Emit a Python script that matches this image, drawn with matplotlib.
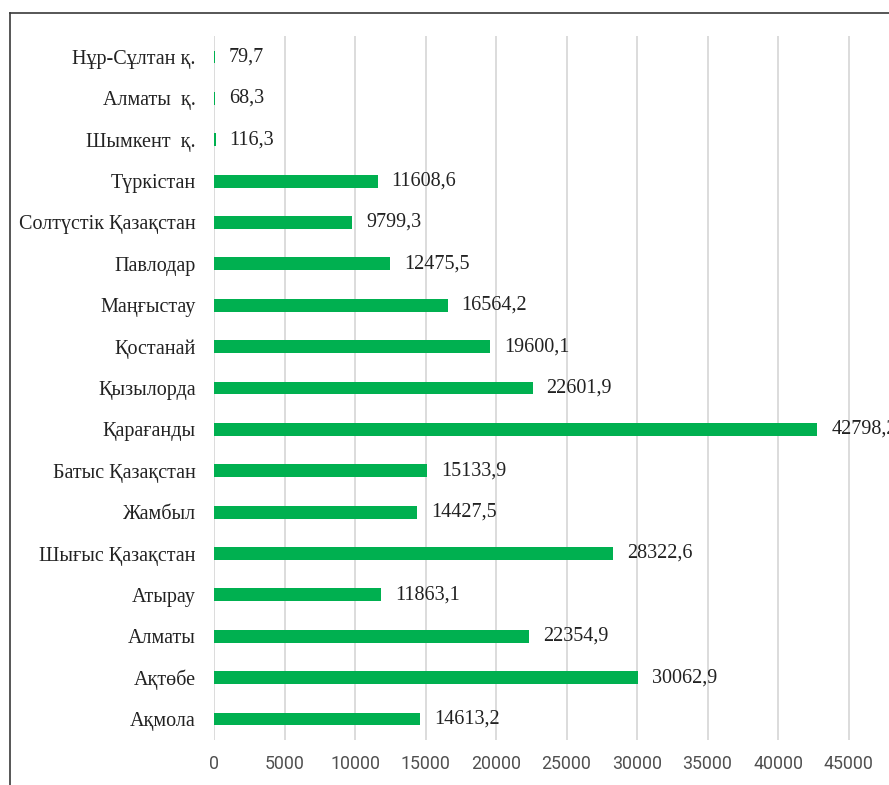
import matplotlib
matplotlib.use("Agg")
import matplotlib.pyplot as plt
from matplotlib.lines import Line2D

categories = ["Ақмола", "Ақтөбе", "Алматы", "Атырау", "Шығыс Қазақстан", "Жамбыл",
              "Батыс Қазақстан", "Қарағанды", "Қызылорда", "Қостанай", "Маңғыстау",
              "Павлодар", "Солтүстік Қазақстан", "Түркістан", "Шымкент  қ.",
              "Алматы  қ.", "Нұр-Сұлтан қ."]
values = [14613.2, 30062.9, 22354.9, 11863.1, 28322.6, 14427.5, 15133.9, 42798.2,
          22601.9, 19600.1, 16564.2, 12475.5, 9799.3, 11608.6, 116.3, 68.3, 79.7]
value_labels = ["14613,2", "30062,9", "22354,9", "11863,1", "28322,6", "14427,5",
                "15133,9", "42798,2", "22601,9", "19600,1", "16564,2", "12475,5",
                "9799,3", "11608,6", "116,3", "68,3", "79,7"]
xticks = [0, 5000, 10000, 15000, 20000, 25000, 30000, 35000, 40000, 45000]

W, H = 889, 785
fig = plt.figure(figsize=(W / 100, H / 100), dpi=100)
x0, x1 = 214, 919
y_top, y_bot = 36.3, 739.7
ax = fig.add_axes([x0 / W, 1 - y_bot / H, (x1 - x0) / W, (y_bot - y_top) / H])

serif = "Liberation Serif"
ypos = list(range(len(categories)))
ax.barh(ypos, values, height=0.31, color="#00B050", zorder=3)
ax.set_xlim(0, 50000)
ax.set_ylim(-0.5, len(categories) - 0.5)
ax.set_yticks(ypos)
ax.set_yticklabels(categories, fontfamily=serif, fontsize=14.5, color="#222222")
ax.set_xticks(xticks)
ax.set_xticklabels([str(t) for t in xticks], fontfamily="Roboto",
                   fontsize=12.8, color="#505050")
ax.tick_params(axis="y", length=0, pad=13)
ax.tick_params(axis="x", length=0, pad=11)
for s in ax.spines.values():
    s.set_visible(False)
ax.grid(axis="x", color="#D9D9D9", linewidth=1.3, zorder=0)
ax.grid(axis="y", visible=False)

for y, v, lab in zip(ypos, values, value_labels):
    ax.annotate(lab, xy=(v, y), xytext=(10, 0), textcoords="offset points",
                va="center", ha="left", fontfamily=serif, fontsize=14.5,
                color="#222222", annotation_clip=False)

fig.add_artist(Line2D([10 / W, 10 / W], [0, 1 - 13 / H], transform=fig.transFigure,
                      color="#3a3a3a", linewidth=1.2))
fig.add_artist(Line2D([10 / W, 1], [1 - 13 / H, 1 - 13 / H], transform=fig.transFigure,
                      color="#3a3a3a", linewidth=1.2))

fig.savefig("out.png", dpi=100)
